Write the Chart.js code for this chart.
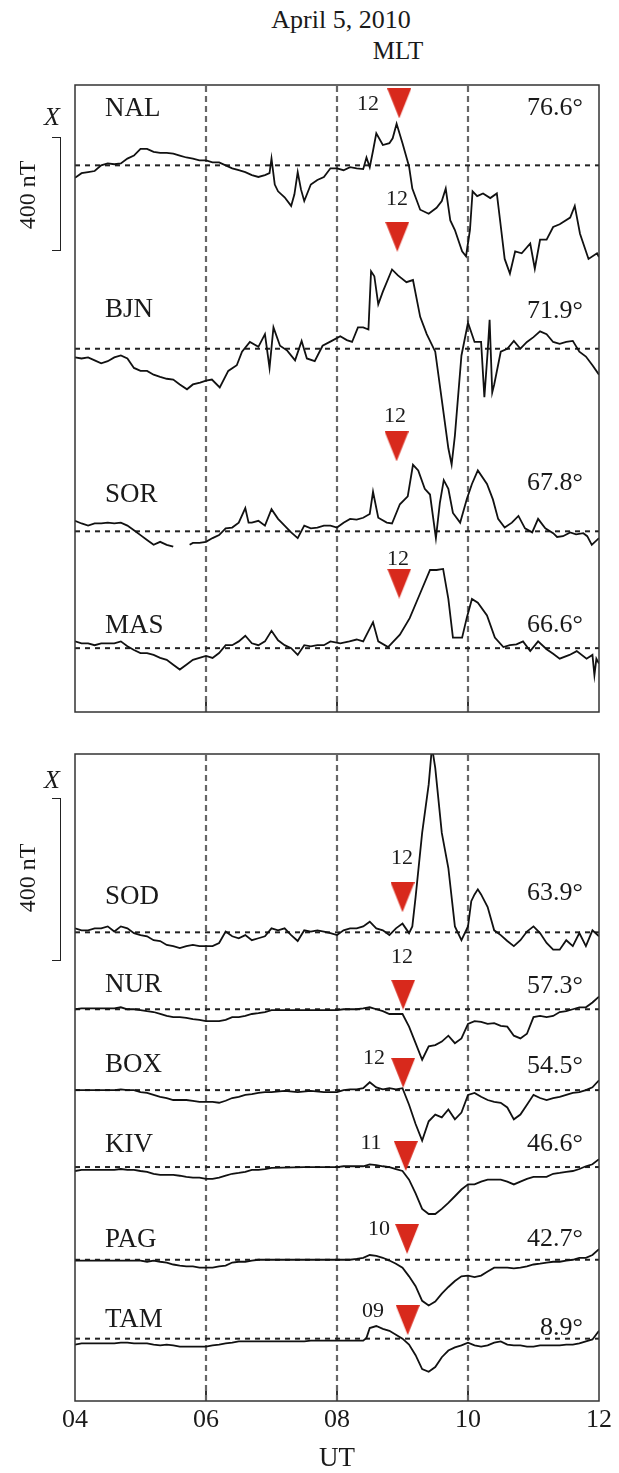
<!DOCTYPE html>
<html>
<head>
<meta charset="utf-8">
<script src="https://cdn.jsdelivr.net/npm/chart.js@4.4.1/dist/chart.umd.min.js"></script>
<style>
html, body { margin: 0; padding: 0; background: #fff; }
body { width: 619px; height: 1473px; position: relative; overflow: hidden;
       font-family: "Liberation Serif", "Times New Roman", serif; color: #1a1a1a; }
canvas { position: absolute; left: 0; }
.lbl { position: absolute; white-space: nowrap; line-height: 1; }
.bar { position: absolute; box-sizing: border-box; border: 1.5px solid #222; border-left: none; }
</style>
</head>
<body>
<canvas id="topChart" width="619" height="653" style="top:72px"></canvas>
<canvas id="botChart" width="619" height="732" style="top:741px"></canvas>
<script>
// ---- data: X component deviation from the dashed level, nT, [UT hours, nT]
var stations = ['NAL', 'BJN', 'SOR', 'MAS', 'SOD', 'NUR', 'BOX', 'KIV', 'PAG', 'TAM'];
var latitudes = ['76.6°', '71.9°', '67.8°', '66.6°', '63.9°', '57.3°', '54.5°', '46.6°', '42.7°', '8.9°'];
var mltLabels = ['12', '12', '12', '12', '12', '12', '12', '11', '10', '09'];
var noonUT = [8.95, 8.92, 8.91, 8.95, 9.00, 9.01, 9.01, 9.05, 9.07, 9.08];
var tickLabels = ['04', '06', '08', '10', '12'];

var NAL = [[4.0,-46],[4.1,-29],[4.2,-25],[4.3,-21],[4.4,0],[4.5,7],[4.6,4],[4.7,7],[4.8,25],[4.9,36],
  [5.0,61],[5.1,61],[5.2,50],[5.3,46],[5.4,46],[5.5,43],[5.6,36],[5.7,29],[5.8,25],[5.9,18],
  [6.0,18],[6.1,11],[6.2,11],[6.3,0],[6.4,-11],[6.5,-18],[6.6,-25],[6.7,-36],[6.8,-43],[6.9,-36],
  [6.97,-29],[7.0,25],[7.05,-71],[7.1,-96],[7.2,-118],[7.3,-150],[7.35,-107],[7.4,-25],[7.45,-89],[7.5,-132],
  [7.6,-71],[7.7,-54],[7.8,-43],[7.9,-11],[8.0,-11],[8.1,-18],[8.2,-7],[8.3,-11],[8.4,-14],[8.45,29],
  [8.5,-7],[8.55,54],[8.6,118],[8.7,75],[8.8,82],[8.85,100],[8.91,154],[9.0,82],[9.1,-4],[9.15,-86],
  [9.27,-164],[9.4,-179],[9.52,-157],[9.6,-132],[9.66,-86],[9.73,-204],[9.8,-239],[9.91,-318],[9.97,-336],[10.03,-239],
  [10.07,-96],[10.14,-114],[10.23,-104],[10.34,-121],[10.44,-104],[10.49,-204],[10.56,-346],[10.64,-400],[10.72,-318],[10.82,-325],
  [10.95,-289],[11.02,-382],[11.1,-275],[11.2,-275],[11.3,-228],[11.4,-218],[11.56,-193],[11.63,-150],[11.71,-253],[11.84,-346],
  [11.97,-325],[12.0,-339]];

var BJN = [[4.0,-32],[4.1,-36],[4.2,-32],[4.3,-43],[4.4,-54],[4.5,-46],[4.6,-32],[4.7,-25],[4.8,-36],[4.9,-71],
  [5.0,-82],[5.1,-82],[5.2,-96],[5.3,-104],[5.4,-111],[5.5,-114],[5.6,-132],[5.71,-150],[5.8,-132],[5.91,-125],
  [6.0,-118],[6.09,-114],[6.21,-143],[6.34,-82],[6.47,-61],[6.55,-11],[6.67,25],[6.8,7],[6.9,54],[6.97,-71],
  [7.03,79],[7.13,11],[7.24,-7],[7.36,-43],[7.46,29],[7.54,-36],[7.66,-46],[7.78,11],[7.92,29],[8.05,46],
  [8.15,32],[8.23,25],[8.32,79],[8.4,79],[8.48,71],[8.52,286],[8.57,268],
  [8.63,164],[8.7,211],[8.84,293],[8.93,271],[9.06,246],[9.16,254],[9.27,118],[9.37,54],[9.5,-11],[9.6,-189],
  [9.7,-368],[9.75,-428],[9.8,-321],[9.9,-25],[10.0,96],[10.1,25],[10.2,25],[10.25,-179],[10.3,-11],[10.33,107],
  [10.37,-161],[10.4,-132],[10.5,-11],[10.6,0],[10.7,29],[10.8,0],[10.9,25],[11.0,43],[11.1,64],[11.2,54],
  [11.3,25],[11.4,18],[11.5,25],[11.6,29],[11.7,-11],[11.8,-29],[11.9,-61],[12.0,-96]];

var SOR = [[4.0,39],[4.1,29],[4.2,21],[4.3,29],[4.4,29],[4.5,32],[4.6,29],[4.7,32],[4.8,21],[4.9,4],
  [5.0,-14],[5.1,-32],[5.2,-50],[5.3,-39],[5.4,-50],[5.5,-57],[5.55,null],[5.75,-50],[5.8,-43],[5.9,-43],
  [6.0,-39],[6.1,-25],[6.2,-14],[6.3,11],[6.4,14],[6.5,32],[6.6,86],[6.65,32],[6.7,32],[6.8,39],
  [6.9,21],[7.0,82],[7.1,46],[7.2,21],[7.3,-4],[7.4,-25],[7.5,21],[7.6,11],[7.7,14],[7.8,21],
  [7.9,21],[8.0,14],[8.1,32],[8.2,46],[8.3,43],[8.4,50],[8.5,64],[8.55,146],[8.63,50],[8.76,32],
  [8.84,29],[8.96,100],[9.08,129],[9.16,246],[9.24,225],[9.34,157],[9.42,136],[9.51,-25],[9.57,104],[9.63,189],
  [9.7,157],[9.77,68],[9.88,32],[9.98,118],[10.06,175],[10.15,225],[10.29,175],[10.38,118],[10.46,46],[10.56,14],
  [10.67,32],[10.77,57],[10.87,11],[10.98,-4],[11.07,46],[11.18,11],[11.3,-7],[11.36,-21],[11.45,-18],[11.56,-4],
  [11.65,-11],[11.76,-7],[11.82,-18],[11.89,-50],[12.0,-25]];

var MAS = [[4.0,25],[4.1,18],[4.2,18],[4.3,11],[4.4,18],[4.5,18],[4.6,18],[4.7,25],[4.8,7],[4.9,-7],
  [5.0,-18],[5.1,-18],[5.2,-25],[5.3,-36],[5.4,-43],[5.5,-61],[5.6,-79],[5.7,-61],[5.8,-43],[5.9,-36],
  [6.0,-29],[6.1,-36],[6.2,-18],[6.3,11],[6.4,11],[6.5,25],[6.6,46],[6.7,18],[6.8,11],[6.9,25],
  [7.0,64],[7.1,29],[7.2,11],[7.3,0],[7.4,-25],[7.5,11],[7.6,7],[7.7,11],[7.8,11],[7.9,25],
  [8.05,18],[8.19,25],[8.3,32],[8.4,25],[8.55,96],[8.63,25],[8.78,4],[8.96,50],[9.11,111],[9.27,203],
  [9.42,289],[9.52,289],[9.62,293],[9.7,182],[9.77,39],[9.91,39],[9.98,111],[10.06,182],[10.15,168],[10.29,121],
  [10.41,39],[10.54,4],[10.64,11],[10.74,14],[10.84,25],[10.95,-11],[11.07,25],[11.2,-4],[11.3,-21],[11.4,-39],
  [11.55,-25],[11.66,-11],[11.81,-39],[11.9,-25],[11.93,-100],[11.96,-39],[12.0,-57]];

var SOD = [[4.0,10],[4.1,5],[4.2,5],[4.3,10],[4.4,10],[4.5,15],[4.6,2],[4.7,15],[4.8,10],[4.9,-2],
  [5.0,-7],[5.1,-10],[5.2,-20],[5.3,-22],[5.4,-32],[5.5,-35],[5.6,-40],[5.7,-35],[5.8,-32],[5.9,-35],
  [6.0,-35],[6.1,-35],[6.2,-27],[6.3,2],[6.4,-10],[6.5,-15],[6.6,-7],[6.7,-20],[6.8,-15],[6.9,-10],
  [7.0,10],[7.1,5],[7.2,10],[7.3,-7],[7.4,-22],[7.5,5],[7.6,2],[7.7,5],[7.8,2],[7.9,-2],
  [8.0,-7],[8.1,5],[8.2,10],[8.3,10],[8.4,15],[8.5,27],[8.6,10],[8.7,5],[8.8,-7],[8.9,10],
  [9.0,22],[9.1,-2],[9.15,15],[9.2,89],[9.3,252],[9.4,375],[9.45,470],[9.5,417],[9.6,252],[9.7,163],
  [9.8,15],[9.9,-20],[10.0,15],[10.05,79],[10.1,96],[10.15,109],[10.2,96],[10.3,64],[10.4,5],[10.5,-7],
  [10.6,-22],[10.7,-35],[10.8,-20],[10.9,2],[11.0,15],[11.1,-2],[11.2,-27],[11.3,-44],[11.4,-44],[11.5,-20],
  [11.6,-35],[11.7,-2],[11.8,-35],[11.9,5],[12.0,-10]];

var NUR = [[4.0,0],[4.1,2],[4.2,2],[4.3,2],[4.4,2],[4.5,2],[4.6,2],[4.7,5],[4.8,0],[4.9,0],
  [5.0,-2],[5.1,-5],[5.2,-7],[5.3,-12],[5.4,-17],[5.5,-20],[5.6,-20],[5.7,-22],[5.8,-25],[5.9,-27],
  [6.0,-30],[6.1,-30],[6.2,-30],[6.3,-27],[6.4,-20],[6.5,-20],[6.6,-17],[6.7,-12],[6.8,-10],[6.9,-7],
  [7.0,-2],[7.2,-2],[7.4,-2],[7.6,-2],[7.8,-2],[8.0,-2],[8.1,0],[8.2,0],[8.3,0],[8.4,2],
  [8.5,5],[8.6,0],[8.7,-5],[8.8,-12],[8.9,-12],[9.0,-12],[9.1,-44],[9.2,-86],[9.3,-128],[9.4,-94],
  [9.5,-91],[9.6,-82],[9.7,-67],[9.8,-86],[9.9,-74],[10.0,-37],[10.1,-30],[10.2,-32],[10.3,-37],[10.4,-35],
  [10.5,-42],[10.6,-44],[10.7,-67],[10.8,-74],[10.9,-62],[11.0,-20],[11.1,-17],[11.2,-20],[11.3,-17],[11.4,-7],
  [11.5,-5],[11.6,0],[11.7,5],[11.8,5],[11.9,17],[12.0,32]];

var BOX = [[4.0,0],[4.2,0],[4.4,0],[4.6,0],[4.7,2],[4.8,0],[4.9,0],
  [5.0,-5],[5.1,-7],[5.2,-12],[5.3,-17],[5.4,-20],[5.5,-25],[5.6,-25],[5.7,-25],[5.8,-27],[5.9,-30],
  [6.0,-30],[6.1,-30],[6.2,-32],[6.3,-27],[6.4,-20],[6.5,-17],[6.6,-12],[6.7,-10],[6.8,-7],[6.9,-5],
  [7.0,-5],[7.2,-2],[7.4,-5],[7.6,-2],[7.8,-5],[8.0,-5],[8.1,0],[8.2,2],[8.3,2],[8.4,5],
  [8.5,20],[8.6,7],[8.7,2],[8.8,5],[8.9,2],[9.0,5],[9.1,-37],[9.2,-86],[9.3,-128],[9.4,-79],
  [9.5,-62],[9.6,-69],[9.7,-49],[9.8,-74],[9.9,-57],[10.0,-12],[10.1,-7],[10.2,-17],[10.3,-25],[10.4,-30],
  [10.5,-32],[10.6,-44],[10.7,-74],[10.8,-62],[10.9,-37],[11.0,-12],[11.1,-20],[11.2,-25],[11.3,-20],[11.4,-17],
  [11.5,-12],[11.6,-7],[11.7,-5],[11.8,0],[11.9,7],[12.0,25]];

var KIV = [[4.0,-10],[4.1,-7],[4.3,-7],[4.5,-7],[4.6,-7],[4.7,-5],[4.8,-7],[4.9,-7],
  [5.0,-10],[5.1,-12],[5.2,-17],[5.3,-20],[5.4,-20],[5.5,-20],[5.6,-22],[5.7,-25],[5.8,-27],[5.9,-27],
  [6.0,-30],[6.1,-30],[6.2,-27],[6.3,-22],[6.4,-17],[6.5,-15],[6.6,-12],[6.7,-7],[6.8,-7],[6.9,-5],
  [7.0,-2],[7.5,0],[8.0,0],[8.1,2],[8.2,2],[8.3,2],[8.4,2],[8.5,7],[8.6,5],[8.7,2],
  [8.8,0],[8.9,-5],[9.0,-10],[9.1,-32],[9.2,-67],[9.3,-106],[9.4,-119],[9.5,-119],[9.6,-106],[9.7,-91],
  [9.8,-74],[9.9,-57],[10.0,-44],[10.1,-44],[10.2,-37],[10.3,-32],[10.4,-32],[10.5,-32],[10.6,-37],[10.7,-44],
  [10.8,-37],[10.9,-30],[11.0,-25],[11.1,-25],[11.2,-25],[11.3,-17],[11.4,-15],[11.5,-12],[11.6,-10],[11.7,-5],
  [11.8,2],[11.9,7],[12.0,20]];

var PAG = [[4.0,-2],[4.5,-2],[5.0,-2],[5.1,-5],[5.2,-2],[5.3,-5],[5.4,-7],[5.5,-12],[5.6,-15],[5.7,-17],
  [5.8,-17],[5.9,-20],[6.0,-20],[6.1,-20],[6.2,-17],[6.3,-15],[6.4,-7],[6.5,-5],[6.6,-5],[6.7,-2],
  [6.8,0],[7.5,0],[8.2,0],[8.3,2],[8.4,5],[8.5,12],[8.6,10],[8.7,5],[8.8,-2],[8.9,-10],
  [9.0,-20],[9.1,-42],[9.2,-67],[9.3,-104],[9.4,-116],[9.5,-106],[9.6,-86],[9.7,-69],[9.8,-54],[9.9,-42],
  [10.0,-40],[10.1,-44],[10.2,-40],[10.3,-30],[10.4,-20],[10.5,-20],[10.6,-20],[10.7,-22],[10.8,-20],[10.9,-17],
  [11.0,-12],[11.1,-10],[11.2,-7],[11.3,-5],[11.4,-5],[11.5,-2],[11.6,0],[11.7,5],[11.8,5],[11.9,12],[12.0,27]];

var TAM = [[4.0,-15],[4.1,-12],[4.6,-12],[4.7,-10],[4.8,-10],[4.9,-12],[5.0,-12],[5.1,-12],[5.2,-15],[5.3,-17],
  [5.4,-15],[5.5,-17],[5.6,-20],[5.7,-20],[5.8,-20],[5.9,-20],[6.0,-20],[6.1,-17],[6.2,-15],[6.3,-12],
  [6.4,-10],[6.5,-7],[7.5,-7],[7.6,-5],[8.4,-5],[8.45,2],[8.5,27],[8.6,32],[8.7,25],[8.8,20],
  [8.9,10],[9.0,0],[9.1,-15],[9.2,-42],[9.3,-77],[9.4,-84],[9.5,-72],[9.6,-47],[9.7,-30],[9.8,-22],
  [9.9,-17],[10.0,-10],[10.1,-17],[10.2,-20],[10.3,-17],[10.4,-10],[10.5,-7],[10.6,-15],[10.7,-17],[10.8,-17],
  [10.9,-20],[11.0,-20],[11.1,-17],[11.2,-17],[11.3,-17],[11.4,-17],[11.5,-15],[11.6,-15],[11.7,-12],[11.8,-7],
  [11.9,-2],[12.0,20]];

// ---- layout
var series = [NAL, BJN, SOR, MAS, SOD, NUR, BOX, KIV, PAG, TAM];
var panelOf = [0, 0, 0, 0, 1, 1, 1, 1, 1, 1];
var baseLevel = [2021, 1343, 668, 236, 1188, 993, 788, 593, 358, 158];   // nT position of each dashed level
var noonLift = [229, 414, 314, 239, 89, 37, 44, 28, 53, 47];              // triangle height above level, nT
var yMaxPanel = [2318, 1640];
var stationY = [107, 308, 493, 624, 895, 983, 1063, 1143, 1238, 1318];
var latY = [107, 310, 482, 624, 892, 985, 1065, 1143, 1238, 1327];
var mltPos = [[368,103],[397,198],[395,415],[398,558],[402,857],[402,956],[374,1057],[371,1142],[379,1228],[373,1310]];

var serif = '"Liberation Serif", "Times New Roman", serif';

// red noon marker
var tri = document.createElement('canvas');
tri.width = 24; tri.height = 30;
var tc = tri.getContext('2d');
tc.fillStyle = '#d8291c';
tc.beginPath(); tc.moveTo(0, 0); tc.lineTo(24, 0); tc.lineTo(12, 30); tc.closePath(); tc.fill();

var frame = {
    id: 'frame',
    afterDraw: function (chart) {
        var a = chart.chartArea, ctx = chart.ctx;
        ctx.save();
        ctx.strokeStyle = '#333';
        ctx.lineWidth = 1.5;
        ctx.strokeRect(a.left, a.top, a.right - a.left, a.bottom - a.top);
        ctx.restore();
    }
};

function buildDatasets(panel) {
    var ymax = yMaxPanel[panel];
    var sets = [];
    [6, 8, 10].forEach(function (h) {
        sets.push({ data: [{x: h, y: 0}, {x: h, y: ymax}], borderColor: '#666', borderWidth: 2.2,
                    borderDash: [6, 4], pointRadius: 0, order: 4 });
        sets.push({ data: [{x: h, y: 0}, {x: h, y: ymax * 0.018}], borderColor: '#333', borderWidth: 2,
                    pointRadius: 0, order: 4 });
    });
    var marks = [];
    for (var i = 0; i < series.length; i++) {
        if (panelOf[i] !== panel) continue;
        var base = baseLevel[i];
        sets.push({ data: [{x: 4, y: base}, {x: 12, y: base}], borderColor: '#222', borderWidth: 2,
                    borderDash: [5, 5], pointRadius: 0, order: 3 });
        sets.push({ data: series[i].map(function (p) { return {x: p[0], y: p[1] === null ? null : p[1] + base}; }),
                    borderColor: '#111', borderWidth: 1.8, pointRadius: 0, order: 2 });
        marks.push({x: noonUT[i], y: base + noonLift[i]});
    }
    sets.push({ data: marks, showLine: false, pointStyle: tri, pointRadius: 12, order: 0 });
    return sets;
}

function makeChart(id, panel, showAxis) {
    return new Chart(document.getElementById(id), {
        type: 'line',
        data: { datasets: buildDatasets(panel) },
        options: {
            responsive: false,
            animation: false,
            events: [],
            layout: { padding: { left: 75, right: 20, top: 2, bottom: 1 } },
            plugins: { legend: { display: false }, tooltip: { enabled: false } },
            scales: {
                x: {
                    type: 'linear', min: 4, max: 12, display: showAxis,
                    grid: { display: false, drawTicks: false },
                    border: { display: false },
                    ticks: {
                        stepSize: 2, padding: 6, color: '#1a1a1a', maxRotation: 0,
                        font: { family: serif, size: 26, lineHeight: 1 },
                        callback: function (v) { return tickLabels[Math.round((v - 4) / 2)]; }
                    },
                    title: { display: true, text: 'UT', color: '#1a1a1a', padding: { top: 6, bottom: 0 },
                             font: { family: serif, size: 27, lineHeight: 1 } }
                },
                y: { type: 'linear', min: 0, max: yMaxPanel[panel], display: false }
            }
        },
        plugins: [frame]
    });
}

makeChart('topChart', 0, false);
makeChart('botChart', 1, true);

// ---- text
function label(text, x, cy, size, align, style) {
    var d = document.createElement('div');
    d.className = 'lbl';
    d.textContent = text;
    d.style.fontSize = size + 'px';
    d.style.top = (cy - size / 2) + 'px';
    if (align === 'left') {
        d.style.left = x + 'px';
    } else if (align === 'right') {
        d.style.right = (619 - x) + 'px';
    } else {
        d.style.left = x + 'px';
        d.style.transform = 'translateX(-50%)' + (style === 'rot' ? ' rotate(-90deg)' : '');
    }
    if (style === 'italic') d.style.fontStyle = 'italic';
    document.body.appendChild(d);
}

label('April 5, 2010', 341, 20, 26, 'center');
label('MLT', 398, 50, 25, 'center');
for (var i = 0; i < stations.length; i++) {
    label(stations[i], 105, stationY[i], 27, 'left');
    label(latitudes[i], 583, latY[i], 26, 'right');
    label(mltLabels[i], mltPos[i][0], mltPos[i][1], 22, 'center');
}
[[117, 195, 137, 114], [780, 878, 798, 163]].forEach(function (s) {
    label('X', 52, s[0], 26, 'center', 'italic');
    label('400 nT', 27, s[1], 24, 'center', 'rot');
    var b = document.createElement('div');
    b.className = 'bar';
    b.style.left = '52px'; b.style.width = '9px';
    b.style.top = s[2] + 'px'; b.style.height = s[3] + 'px';
    document.body.appendChild(b);
});
</script>
</body>
</html>
